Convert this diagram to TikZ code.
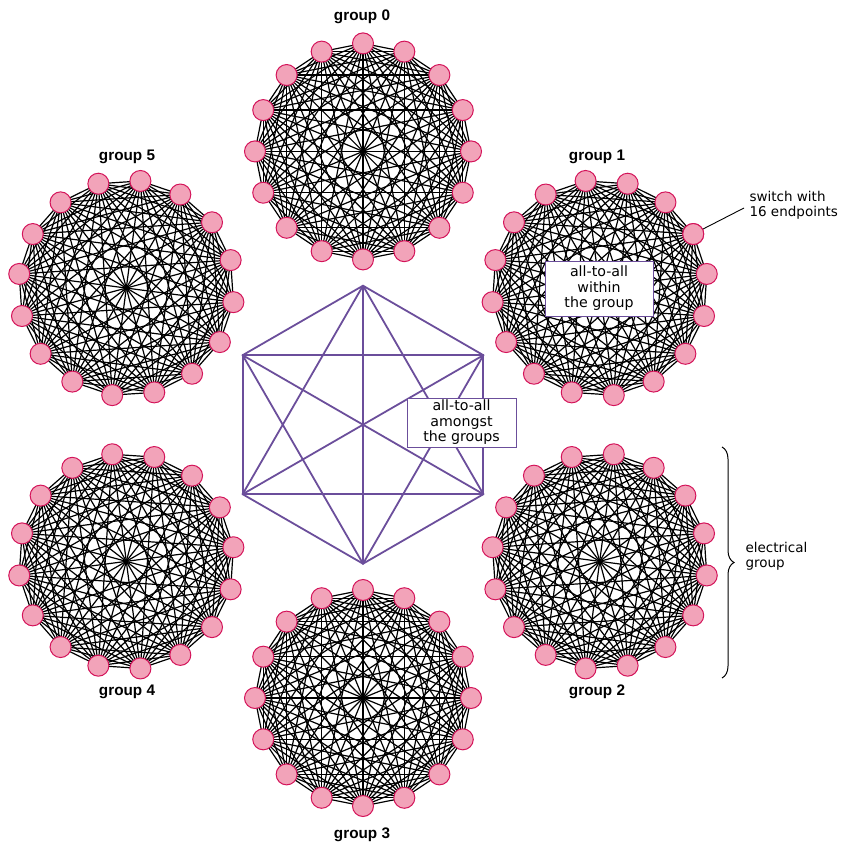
\documentclass[tikz,border=0pt]{standalone}
\usepackage{fontspec}
\setmainfont{DejaVu Sans}
\newfontfamily\labfont{Liberation Sans}
\usetikzlibrary{decorations.pathreplacing}
\definecolor{pinkfill}{HTML}{F2A3B9}
\definecolor{pinkdraw}{HTML}{D4145A}
\definecolor{hexpurple}{HTML}{6B4E9B}
\pgfdeclarelayer{bg}
\pgfsetlayers{bg,main}
\tikzset{
  switchnode/.style={circle, fill=pinkfill, draw=pinkdraw, line width=1pt, minimum size=21pt, inner sep=0pt},
  link/.style={black, line width=1.2pt},
  hexlink/.style={hexpurple, line width=1.8pt},
  grouplabel/.style={font=\labfont\bfseries\fontsize{15.3}{17}\selectfont},
  note/.style={font=\fontsize{13.5}{15}\selectfont, align=left},
  boxnote/.style={draw=hexpurple, line width=1pt, fill=white, align=center, font=\fontsize{14.2}{15.5}\selectfont, inner sep=0pt},
  hexpt/.style={inner sep=0pt, minimum size=0pt}
}
\begin{document}
\begin{tikzpicture}[x=1pt,y=-1pt]
\useasboundingbox (0,0) rectangle (842,845);
% groups
\foreach \g/\ga in {0/90,1/30,2/-30,3/-90,4/210,5/150}{
  \pgfmathsetmacro\cx{363+273.3*cos(\ga)}
  \pgfmathsetmacro\cy{424.7-273.3*sin(\ga)}
  \foreach \k in {0,...,15}{
    \pgfmathsetmacro\a{\ga+\k*22.5}
    \node[switchnode] (g\g n\k) at ({\cx+108*cos(\a)},{\cy-108*sin(\a)}) {};
  }
  \begin{pgfonlayer}{bg}
  \foreach \i in {0,...,14}{
    \pgfmathtruncatemacro\s{\i+1}
    \foreach \j in {\s,...,15}{
      \draw[link] (g\g n\i.center) -- (g\g n\j.center);
    }
  }
  \end{pgfonlayer}
}
% hexagon
\foreach \k in {0,...,5}{
  \node[hexpt] (h\k) at ({363+139*cos(90+\k*60)},{424.7-139*sin(90+\k*60)}) {};
}
\foreach \i in {0,...,4}{
  \pgfmathtruncatemacro\s{\i+1}
  \foreach \j in {\s,...,5}{
    \draw[hexlink, line cap=round] (h\i.center) -- (h\j.center);
  }
}
% group labels
\node[grouplabel] (l0) at (362,17) {group 0};
\node[grouplabel] (l1) at (597,157) {group 1};
\node[grouplabel] (l2) at (597,692) {group 2};
\node[grouplabel] (l3) at (362,835) {group 3};
\node[grouplabel] (l4) at (127,692) {group 4};
\node[grouplabel] (l5) at (127,157) {group 5};
% boxes
\node[boxnote, minimum width=108pt, minimum height=55pt] (within) at (599,288.5) {all-to-all\\within\\the group};
\node[boxnote, minimum width=109pt, minimum height=49pt] (amongst) at (461.5,422.5) {all-to-all\\amongst\\the groups};
% switch note
\node[note, anchor=west] (sw) at (746,205) {switch with\\16 endpoints};
\coordinate (swend) at (744,208);
\draw[black, line width=0.9pt] (g1n0.center) -- (swend);
\node[switchnode] at (g1n0.center) {};
% brace
\coordinate (bt) at (722,447);
\coordinate (bb) at (722,678);
\draw[black, line width=1pt, decorate, decoration={brace, amplitude=12pt}] (bt) -- (bb);
\node[note, anchor=west] (elec) at (742,556) {electrical\\group};
\end{tikzpicture}
\end{document}
